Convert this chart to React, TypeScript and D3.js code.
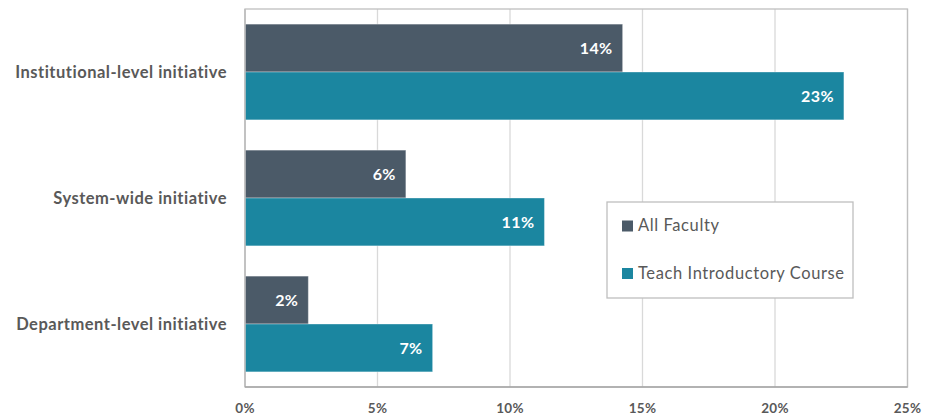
import React from "react";
import * as d3 from "d3";

const categories = ["Institutional-level initiative", "System-wide initiative", "Department-level initiative"];
const seriesNames = ["All Faculty", "Teach Introductory Course"];
const allFaculty = [14.25, 6.07, 2.39];
const teachIntro = [22.6, 11.3, 7.08];
const dataLabels = [["14%", "6%", "2%"], ["23%", "11%", "7%"]];
const xTicks = [0, 5, 10, 15, 20, 25];
const colors = ["#4b5a68", "#1b86a0"];

const W = 926, H = 417;
const plot = { left: 245, right: 907.5, top: 9, bottom: 387 };
const font = "Lato, 'Open Sans', sans-serif";

export default function App() {
  const x = d3.scaleLinear().domain([0, 25]).range([plot.left, plot.right]);
  const y = d3.scaleBand().domain(categories).range([plot.top, plot.bottom]).paddingInner(0.24).paddingOuter(0.12);
  const inner = d3.scaleBand().domain(seriesNames).range([0, y.bandwidth()]);
  const series = [allFaculty, teachIntro];
  return (
    <svg width={W} height={H} style={{ position: "absolute", left: 0, top: 0 }} fontFamily={font}>
      <rect x={0} y={0} width={W} height={H} fill="#fff" />
      {xTicks.map((t) => (
        <line key={t} x1={x(t)} x2={x(t)} y1={plot.top} y2={plot.bottom} stroke="#d9d9d9" strokeWidth={1.3} />
      ))}
      <rect x={plot.left} y={plot.top} width={plot.right - plot.left} height={plot.bottom - plot.top} fill="none" stroke="#bfbfbf" strokeWidth={1.3} />
      {series.map((vals, si) =>
        vals.map((v, ci) => {
          const y0 = (y(categories[ci]) as number) + (inner(seriesNames[si]) as number);
          return (
            <g key={`${si}-${ci}`}>
              <rect x={x(0)} y={y0} width={x(v) - x(0)} height={inner.bandwidth()} fill={colors[si]} stroke="#ffffff" strokeOpacity={0.35} strokeWidth={1} />
              <text x={x(v) - 10} y={y0 + inner.bandwidth() / 2} dy="0.36em" textAnchor="end" fill="#fff" fontWeight="bold" fontSize={16} letterSpacing={0.4}>
                {dataLabels[si][ci]}
              </text>
            </g>
          );
        })
      )}
      <line x1={plot.left} x2={plot.left} y1={plot.top} y2={plot.bottom} stroke="#bfbfbf" strokeWidth={1.5} />
      <line x1={plot.left} x2={plot.right} y1={plot.bottom} y2={plot.bottom} stroke="#a6a6a6" strokeWidth={1.5} />
      {categories.map((c) => (
        <text key={c} x={227} y={(y(c) as number) + y.bandwidth() / 2} dy="0.36em" textAnchor="end" fill="#595959" fontWeight="bold" fontSize={16.5} letterSpacing={0.5}>
          {c}
        </text>
      ))}
      {xTicks.map((t) => (
        <text key={t} x={x(t)} y={408} dy="0.36em" textAnchor="middle" fill="#595959" fontWeight="bold" fontSize={13.5} letterSpacing={0.3}>
          {t}%
        </text>
      ))}
      <rect x={607} y={202} width={246} height={96} fill="#fff" stroke="#bfbfbf" strokeWidth={1.3} />
      {seriesNames.map((s, i) => (
        <g key={s}>
          <rect x={622} y={220.5 + i * 47.5} width={11} height={11} fill={colors[i]} />
          <text x={638} y={225 + i * 48} dy="0.36em" fill="#595959" fontSize={16.5} letterSpacing={0.6}>
            {s}
          </text>
        </g>
      ))}
    </svg>
  );
}
